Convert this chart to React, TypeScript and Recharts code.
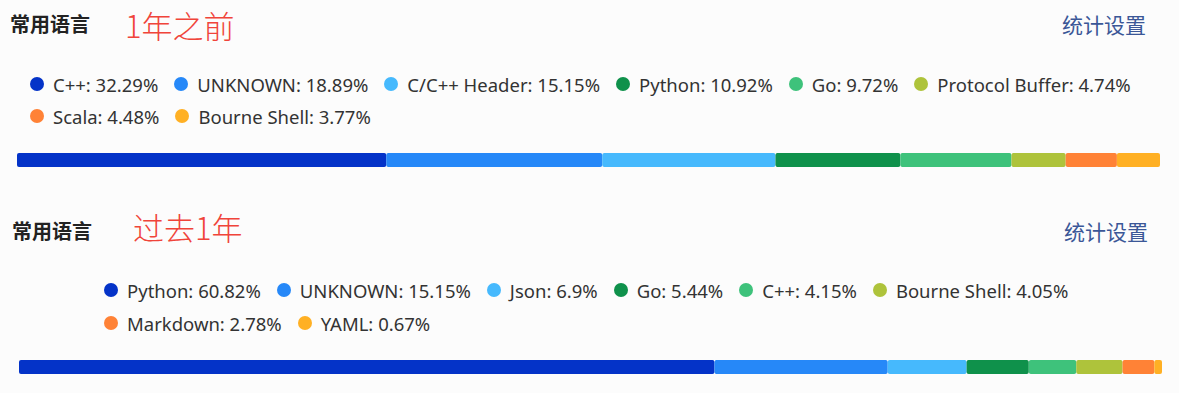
import React from 'react';
import { BarChart, Bar, XAxis, YAxis } from 'recharts';

const panelTitle = '常用语言';
const settingsLabel = '统计设置';
const periodLabels = ['1年之前', '过去1年'];

const topLanguages = ['C++', 'UNKNOWN', 'C/C++ Header', 'Python', 'Go', 'Protocol Buffer', 'Scala', 'Bourne Shell'];
const topShares = [32.29, 18.89, 15.15, 10.92, 9.72, 4.74, 4.48, 3.77];

const bottomLanguages = ['Python', 'UNKNOWN', 'Json', 'Go', 'C++', 'Bourne Shell', 'Markdown', 'YAML'];
const bottomShares = [60.82, 15.15, 6.9, 5.44, 4.15, 4.05, 2.78, 0.67];

const segmentColors = ['#0433c8', '#2688f8', '#46b9fd', '#0f914b', '#3ec27b', '#aec33b', '#ff8236', '#ffb024'];

const FONT = '"Noto Sans", "Noto Sans CJK SC", sans-serif';

type PanelProps = {
  top: number;
  languages: string[];
  shares: number[];
  period: string;
  titleLeft: number;
  periodLeft: number;
  settingsRight: number;
  legendLeft: number;
  legendWidth: number;
  legendTop: number;
  rowGap: number;
  barTop: number;
  barLeft: number;
  barRight: number;
  periodTop: number;
};

function Panel(p: PanelProps) {
  const row: Record<string, number | string> = { name: 'row' };
  p.shares.forEach((v, i) => {
    row['k' + i] = v;
  });
  const data = [row];
  return (
    <div style={{ position: 'absolute', left: 0, top: p.top, width: 1179, height: 200 }}>
      <div
        style={{
          position: 'absolute',
          left: p.titleLeft,
          top: 10,
          fontFamily: '"Noto Sans CJK SC", sans-serif',
          fontWeight: 700,
          fontSize: 20,
          lineHeight: '28px',
          color: '#222',
        }}
      >
        {panelTitle}
      </div>
      <div
        style={{
          position: 'absolute',
          left: p.periodLeft,
          top: p.periodTop,
          fontFamily: '"Noto Sans CJK SC", sans-serif',
          fontWeight: 300,
          fontSize: 31,
          lineHeight: '40px',
          color: '#f0443a',
        }}
      >
        {p.period}
      </div>
      <div
        style={{
          position: 'absolute',
          right: p.settingsRight,
          top: 10,
          fontFamily: '"Noto Sans CJK SC", sans-serif',
          fontSize: 21,
          lineHeight: '28px',
          color: '#3b5797',
        }}
      >
        {settingsLabel}
      </div>
      <div
        style={{
          position: 'absolute',
          left: p.legendLeft,
          top: p.legendTop,
          width: p.legendWidth,
          display: 'flex',
          flexWrap: 'wrap',
          rowGap: p.rowGap,
          columnGap: 16,
          fontFamily: FONT,
          fontSize: 18.5,
          color: '#333',
        }}
      >
        {p.languages.map((name, i) => (
          <div key={name} style={{ display: 'flex', alignItems: 'center', height: 24, whiteSpace: 'nowrap' }}>
            <span
              style={{
                display: 'inline-block',
                flexShrink: 0,
                width: 14,
                height: 14,
                borderRadius: '50%',
                background: segmentColors[i],
                marginRight: 9,
              }}
            />
            <span>{name + ': ' + p.shares[i] + '%'}</span>
          </div>
        ))}
      </div>
      <div style={{ position: 'absolute', left: 0, top: p.barTop }}>
        <BarChart
          width={1179}
          height={14}
          data={data}
          layout="vertical"
          margin={{ top: 0, right: p.barRight, bottom: 0, left: p.barLeft }}
          barCategoryGap={0}
        >
          <XAxis type="number" hide domain={[0, 'dataMax']} />
          <YAxis type="category" dataKey="name" hide />
          {p.shares.map((_, i) => (
            <Bar
              key={i}
              dataKey={'k' + i}
              stackId="lang"
              fill={segmentColors[i]}
              radius={2}
              isAnimationActive={false}
            />
          ))}
        </BarChart>
      </div>
    </div>
  );
}

export default function App() {
  return (
    <div
      style={{
        position: 'absolute',
        left: 0,
        top: 0,
        width: 1179,
        height: 393,
        background: '#fcfcfc',
        overflow: 'hidden',
      }}
    >
      <Panel
        top={0}
        languages={topLanguages}
        shares={topShares}
        period={periodLabels[0]}
        titleLeft={10}
        periodLeft={125}
        periodTop={5}
        settingsRight={33}
        legendLeft={30}
        legendWidth={1140}
        legendTop={72}
        rowGap={8}
        barTop={153}
        barLeft={17}
        barRight={19}
      />
      <Panel
        top={207}
        languages={bottomLanguages}
        shares={bottomShares}
        period={periodLabels[1]}
        titleLeft={12}
        periodLeft={133}
        periodTop={0}
        settingsRight={31}
        legendLeft={104}
        legendWidth={1060}
        legendTop={71}
        rowGap={9}
        barTop={153}
        barLeft={19}
        barRight={17}
      />
    </div>
  );
}
